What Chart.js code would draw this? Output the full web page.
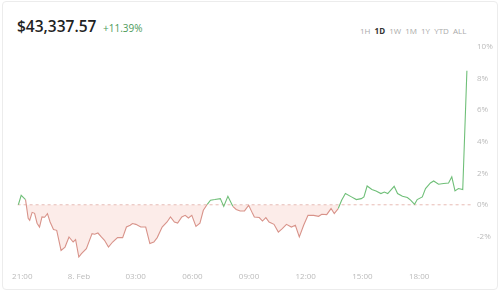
<!DOCTYPE html>
<html>
<head>
<meta charset="utf-8">
<script src="https://cdn.jsdelivr.net/npm/chart.js@4"></script>
<style>
  body { margin: 0; background: #fff; font-family: "Open Sans", sans-serif; }
  #card { position: absolute; left: 2px; top: 1px; width: 494px; height: 287px; border: 1px solid #ececec; border-radius: 4px; }
  #price { position: absolute; left: 17px; top: 15px; font-size: 15.5px; font-weight: 600; color: #222; }
  #change { position: absolute; left: 103px; top: 21px; font-size: 10px; color: #4c9a5a; }
  #ranges { position: absolute; left: 360px; top: 25px; font-size: 8px; color: #aaa; word-spacing: 2px; }
  #ranges b { color: #333; }
  #wrap { position: absolute; left: 0; top: 0; width: 500px; height: 293px; }
</style>
</head>
<body>
<div id="card"></div>
<div id="price">$43,337.57</div>
<div id="change">+11.39%</div>
<div id="ranges">1H <b>1D</b> 1W 1M 1Y YTD ALL</div>
<div id="wrap"><canvas id="grafica"></canvas></div>
<script>
// horas desde las 21:00
const horas = [-0.21, -0.06, 0.17, 0.31, 0.39, 0.52, 0.65, 0.78, 0.91, 1.04, 1.18, 1.33, 1.47, 1.65, 1.82,
  2.05, 2.26, 2.47, 2.69, 2.82, 2.99, 3.13, 3.39, 3.69, 3.83, 4.00, 4.18, 4.35, 4.56, 4.78, 5.04, 5.31,
  5.51, 5.71, 5.83, 6.01, 6.27, 6.53, 6.75, 6.96, 7.14, 7.40, 7.66, 7.84, 8.05, 8.22, 8.44, 8.62, 8.79,
  8.97, 9.19, 9.40, 9.58, 9.79, 9.96, 10.19, 10.48, 10.66, 10.88, 11.14, 11.32, 11.53, 11.76, 11.98, 12.19,
  12.28, 12.54, 12.71, 12.89, 13.06, 13.32, 13.55, 13.76, 13.98, 14.24, 14.45, 14.66, 14.89, 15.12, 15.42,
  15.68, 15.85, 16.11, 16.34, 16.51, 16.72, 16.90, 17.10, 17.42, 17.68, 17.94, 18.08, 18.25, 18.50, 18.72,
  18.98, 19.16, 19.34, 19.68, 19.86, 20.12, 20.38, 20.55, 20.76, 20.90, 21.17, 21.34, 21.60, 21.77, 22.03,
  22.30, 22.56, 22.73, 22.90, 23.08, 23.31, 23.53];
// variacion en %
const cambios = [0.0, 0.60, 0.33, -0.86, -0.98, -0.48, -0.54, -1.17, -1.41, -0.77, -0.79, -0.56, -1.09, -1.57, -1.62,
  -2.89, -2.68, -2.04, -2.36, -2.21, -3.31, -3.10, -2.78, -1.83, -1.87, -1.79, -2.04, -2.25, -2.68, -2.36, -2.08, -2.08,
  -1.41, -1.30, -1.19, -1.24, -1.41, -1.41, -2.46, -2.36, -2.08, -1.41, -1.09, -0.77, -1.09, -1.16, -0.77, -0.67, -0.84,
  -0.67, -1.37, -1.16, -0.35, 0.03, 0.29, 0.33, 0.39, -0.10, 0.54, -0.10, -0.30, -0.39, -0.39, -0.03, -0.56,
  -0.77, -0.81, -1.03, -0.81, -1.09, -1.24, -1.73, -1.51, -1.24, -1.41, -1.30, -2.04, -1.30, -0.67, -0.67,
  -0.73, -0.60, -0.62, -0.24, -0.56, -0.24, 0.29, 0.71, 0.50, 0.33, 0.39, 0.50, 1.19, 0.97, 0.88,
  0.71, 0.81, 0.71, 1.17, 0.71, 0.54, 0.46, 0.29, 0.03, 0.33, 0.50, 1.03, 1.38, 1.51, 1.30,
  1.35, 1.38, 1.77, 0.88, 1.03, 0.97, 8.50];

const tickHoras = [0, 3, 6, 9, 12, 15, 18, 21];
const tickEtiquetas = ["21:00", "8. Feb", "03:00", "06:00", "09:00", "12:00", "15:00", "18:00"];
const tickPorcentajes = [-2, 0, 2, 4, 6, 8, 10];

const verde = "#6fbf78";
const rojo = "#d8938a";

//linea punteada en el 0%
const lineaCero = {
  id: "lineaCero",
  beforeDatasetsDraw(chart) {
    const ctx = chart.ctx;
    const y = chart.scales.y.getPixelForValue(0);
    ctx.save();
    ctx.strokeStyle = "#e6bcb6";
    ctx.lineWidth = 1;
    ctx.setLineDash([3, 3]);
    ctx.beginPath();
    ctx.moveTo(chart.chartArea.left, y);
    ctx.lineTo(chart.chartArea.right, y);
    ctx.stroke();
    ctx.restore();
  }
};

const datax = {
  datasets: [{
    data: horas.map((h, i) => ({ x: h, y: cambios[i] })),
    borderWidth: 1.1,
    pointRadius: 0,
    tension: 0,
    borderColor: verde,
    segment: {
      borderColor: c => (c.p0.parsed.y + c.p1.parsed.y) / 2 < 0 ? rojo : verde
    },
    fill: { target: { value: 0 }, above: "transparent", below: "rgba(245,192,182,0.3)" }
  }]
};

const config = {
  type: "line",
  data: datax,
  plugins: [lineaCero],
  options: {
    responsive: false,
    animation: false,
    layout: { padding: { left: 12, right: 0, top: 47, bottom: 9 } },
    plugins: { legend: { display: false }, tooltip: { enabled: false } },
    scales: {
      x: {
        type: "linear",
        min: -0.25,
        max: 23.8,
        grid: { display: false, drawTicks: false },
        border: { display: false },
        afterBuildTicks: s => { s.ticks = tickHoras.map(v => ({ value: v })); },
        afterFit: s => { s.height = 24; },
        ticks: {
          padding: 12,
          autoSkip: false,
          maxRotation: 0,
          color: "#bbb",
          font: { size: 8, family: "Open Sans" },
          callback: v => tickEtiquetas[tickHoras.indexOf(v)]
        }
      },
      y: {
        position: "right",
        min: -3.5,
        max: 10,
        grid: { display: false, drawTicks: false },
        border: { display: false },
        afterBuildTicks: s => { s.ticks = tickPorcentajes.map(v => ({ value: v })); },
        afterFit: s => { s.width = 28; },
        ticks: {
          padding: 5,
          color: "#bbb",
          font: { size: 8, family: "Open Sans" },
          callback: v => v + "%"
        }
      }
    }
  }
};

const canvas = document.getElementById("grafica");
canvas.width = 500;
canvas.height = 293;
new Chart(canvas, config);
</script>
</body>
</html>
